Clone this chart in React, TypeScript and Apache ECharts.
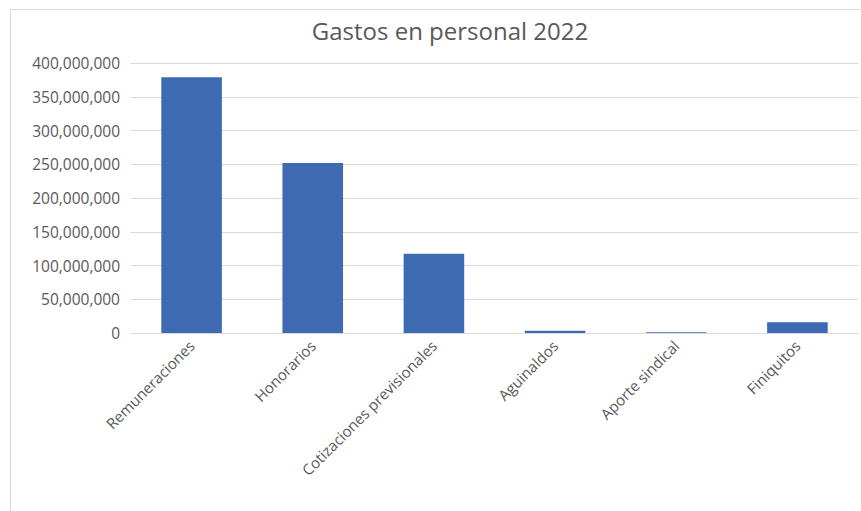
import React, { useEffect, useRef } from "react";
import * as echarts from "echarts";

const categories = [
  "Remuneraciones",
  "Honorarios",
  "Cotizaciones previsionales",
  "Aguinaldos",
  "Aporte sindical",
  "Finiquitos",
];
const values = [379000000, 252000000, 117500000, 3500000, 1000000, 15800000];
const titleText = "Gastos en personal 2022";

const FONT = "'Open Sans', sans-serif";

export default function App() {
  const ref = useRef<HTMLDivElement>(null);
  useEffect(() => {
    document.body.style.margin = "0";
    const chart = echarts.init(ref.current!, null, { renderer: "svg" });
    chart.setOption({
      animation: false,
      backgroundColor: "#ffffff",
      title: {
        text: titleText,
        left: 445,
        textAlign: "center",
        top: 13,
        textStyle: { color: "#595959", fontSize: 24, fontWeight: "normal", fontFamily: FONT },
      },
      graphic: [
        {
          type: "rect",
          shape: { x: 10.5, y: 9.5, width: 900, height: 600 },
          style: { fill: "none", stroke: "#d9d9d9", lineWidth: 1 },
          silent: true,
        },
      ],
      grid: { left: 131, right: 3, top: 63, bottom: 178 },
      xAxis: {
        type: "category",
        data: categories,
        axisLine: { lineStyle: { color: "#d9d9d9" } },
        axisTick: { show: false },
        axisLabel: {
          rotate: 45,
          color: "#595959",
          fontSize: 15,
          fontFamily: FONT,
          margin: 10,
          interval: 0,
        },
      },
      yAxis: {
        type: "value",
        min: 0,
        max: 400000000,
        interval: 50000000,
        axisLine: { show: false },
        axisTick: { show: false },
        splitLine: { lineStyle: { color: "#d9d9d9" } },
        axisLabel: {
          color: "#595959",
          fontSize: 15.5,
          fontFamily: FONT,
          margin: 11,
          formatter: (v: number) => v.toLocaleString("en-US"),
        },
      },
      series: [
        {
          type: "bar",
          data: values,
          barWidth: "50%",
          itemStyle: { color: "#3d6ab3" },
        },
      ],
    });
    return () => chart.dispose();
  }, []);
  return <div ref={ref} style={{ width: 861, height: 511 }} />;
}
